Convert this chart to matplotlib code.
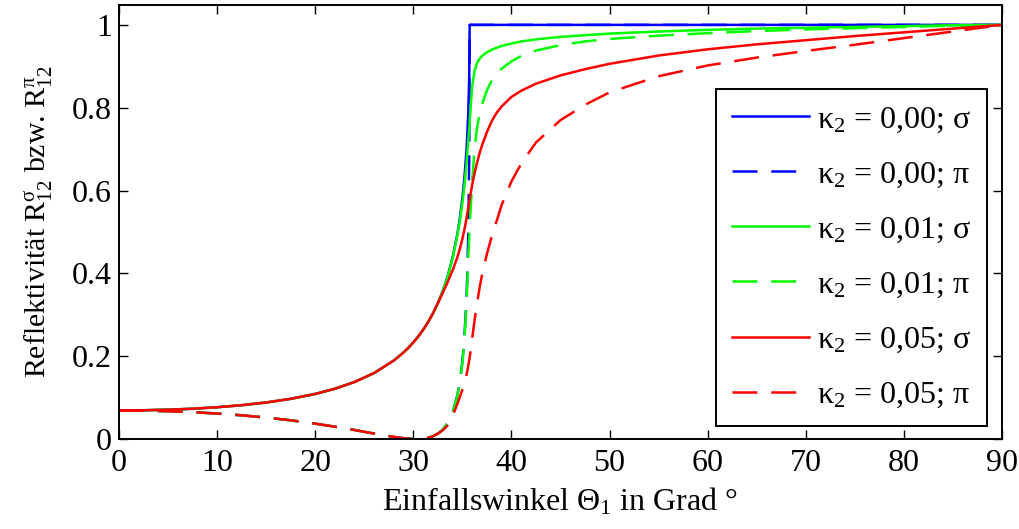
import matplotlib
matplotlib.use("Agg")
import matplotlib.pyplot as plt

plt.rcParams['font.family'] = ['Liberation Serif', 'DejaVu Serif']
plt.rcParams['mathtext.fontset'] = 'custom'
plt.rcParams['mathtext.rm'] = 'Liberation Serif'
plt.rcParams['mathtext.it'] = 'Liberation Serif'
plt.rcParams['mathtext.bf'] = 'Liberation Serif:bold'

# Einfallswinkel in Grad, bis 32.5 Grad ist kappa ohne sichtbaren Einfluss
theta_low = [0, 2.5, 5, 7.5, 10, 12.5, 15, 17.5, 20, 22, 24, 26, 28, 29,
             29.5, 30, 30.5, 31, 31.5, 32, 32.5]
theta_high = [33, 33.5, 34, 34.5, 34.75, 35, 35.2, 35.4, 35.5, 35.6, 35.7,
              35.74, 35.85, 36, 36.25, 36.5, 36.75, 37, 37.5, 38, 38.5, 39,
              40, 41, 42.5, 45, 47.5, 50, 55, 60, 65, 70, 75, 80, 85, 90]

r_sigma_low = [0.0689, 0.0694, 0.0708, 0.0731, 0.0767, 0.0816, 0.0882, 0.0970,
               0.1088, 0.1213, 0.1376, 0.1593, 0.1893, 0.2090, 0.2204, 0.2332,
               0.2475, 0.2637, 0.2821, 0.3033, 0.3280]
r_pi_low = [0.0689, 0.0685, 0.0671, 0.0648, 0.0615, 0.0572, 0.0517, 0.0451,
            0.0371, 0.0297, 0.0217, 0.0131, 0.0051, 0.0019, 0.0008, 0.0001,
            0.0001, 0.0009, 0.0029, 0.0067, 0.0129]

# kappa_2 = 0,00 (Totalreflexion ab ca. 35.7 Grad)
r_sigma_k0 = [0.3574, 0.3932, 0.4378, 0.4967, 0.5346, 0.5813, 0.6286, 0.6915,
              0.7332, 0.7885, 0.8804, 1.0, 1.0, 1.0, 1.0, 1.0, 1.0, 1.0, 1.0,
              1.0, 1.0, 1.0, 1.0, 1.0, 1.0, 1.0, 1.0, 1.0, 1.0, 1.0, 1.0, 1.0,
              1.0, 1.0, 1.0, 1.0]
r_pi_k0 = [0.0228, 0.0385, 0.0638, 0.1067, 0.1402, 0.1880, 0.2441, 0.3310,
           0.3969, 0.4953, 0.6877, 1.0, 1.0, 1.0, 1.0, 1.0, 1.0, 1.0, 1.0,
           1.0, 1.0, 1.0, 1.0, 1.0, 1.0, 1.0, 1.0, 1.0, 1.0, 1.0, 1.0, 1.0,
           1.0, 1.0, 1.0, 1.0]
# kappa_2 = 0,01
r_sigma_k1 = [0.357, 0.392, 0.436, 0.493, 0.528, 0.57, 0.61, 0.66, 0.69,
              0.72, 0.75, 0.765, 0.805, 0.852, 0.89, 0.908, 0.918, 0.925,
              0.934, 0.940, 0.945, 0.949, 0.955, 0.960, 0.965, 0.971, 0.975,
              0.979, 0.984, 0.988, 0.991, 0.993, 0.995, 0.997, 0.999, 1.0]
r_pi_k1 = [0.0228, 0.0385, 0.0635, 0.105, 0.138, 0.184, 0.238, 0.318, 0.375,
           0.44, 0.49, 0.51, 0.56, 0.62, 0.705, 0.752, 0.785, 0.808, 0.842,
           0.866, 0.882, 0.894, 0.912, 0.925, 0.938, 0.951, 0.960, 0.966,
           0.974, 0.980, 0.985, 0.989, 0.992, 0.995, 0.998, 1.0]
# kappa_2 = 0,05
r_sigma_k5 = [0.353, 0.379, 0.407, 0.440, 0.460, 0.483, 0.505, 0.530, 0.544,
              0.558, 0.572, 0.578, 0.594, 0.614, 0.643, 0.668, 0.690, 0.709,
              0.741, 0.768, 0.788, 0.803, 0.826, 0.841, 0.858, 0.878, 0.893,
              0.906, 0.926, 0.941, 0.953, 0.963, 0.973, 0.982, 0.991, 1.0]
r_pi_k5 = [0.021, 0.033, 0.055, 0.086, 0.102, 0.119, 0.134, 0.153, 0.164,
           0.177, 0.191, 0.197, 0.215, 0.243, 0.288, 0.328, 0.365, 0.396,
           0.447, 0.490, 0.527, 0.565, 0.622, 0.665, 0.716, 0.770, 0.807,
           0.837, 0.876, 0.902, 0.921, 0.937, 0.952, 0.968, 0.984, 1.0]

kappa_labels = ['0,00', '0,01', '0,05']
colors = ['#0000ff', '#00ff00', '#ff0000']
sigma_high = [r_sigma_k0, r_sigma_k1, r_sigma_k5]
pi_high = [r_pi_k0, r_pi_k1, r_pi_k5]

theta = theta_low + theta_high

fig = plt.figure(figsize=(10.19, 5.29), dpi=100)
ax = fig.add_axes([119 / 1019, 90 / 529, 883 / 1019, 434 / 529])

for k, col, rs, rp in zip(kappa_labels, colors, sigma_high, pi_high):
    ax.plot(theta, r_sigma_low + rs, color=col, lw=1.8,
            label='κ$_{2}$ = ' + k + '; σ')
    ax.plot(theta, r_pi_low + rp, color=col, lw=1.8, dashes=(10, 5.5),
            label='κ$_{2}$ = ' + k + '; π')

ax.set_xlim(0, 90)
ax.set_ylim(0, 1.048)
ax.set_xticks(range(0, 91, 10))
ax.set_yticks([0, 0.2, 0.4, 0.6, 0.8, 1])
ax.set_yticklabels(['0', '0.2', '0.4', '0.6', '0.8', '1'])
ax.tick_params(direction='in', length=6.5, width=1.0, top=True, right=True,
               labelsize=23)
ax.tick_params(axis='x', pad=7)
ax.tick_params(axis='y', pad=5)
for sp in ax.spines.values():
    sp.set_linewidth(1.4)

ax.set_xlabel(r'Einfallswinkel $\Theta_{1}$ in Grad °', fontsize=23, labelpad=6)
ax.set_ylabel(r'Reflektivität $\mathrm{R}_{12}^{\mathrm{\sigma}}$ bzw. '
              r'$\mathrm{R}_{12}^{\mathrm{\pi}}$', fontsize=21.5, labelpad=12)

leg = ax.legend(loc='lower right', bbox_to_anchor=(0.983, 0.030),
                borderaxespad=0, fontsize=23, frameon=True, fancybox=False,
                framealpha=1, edgecolor='black', handlelength=2.4,
                handletextpad=0.25, labelspacing=0.8, borderpad=0.5)
leg.get_frame().set_linewidth(1.4)

fig.savefig('out.png', dpi=100)
